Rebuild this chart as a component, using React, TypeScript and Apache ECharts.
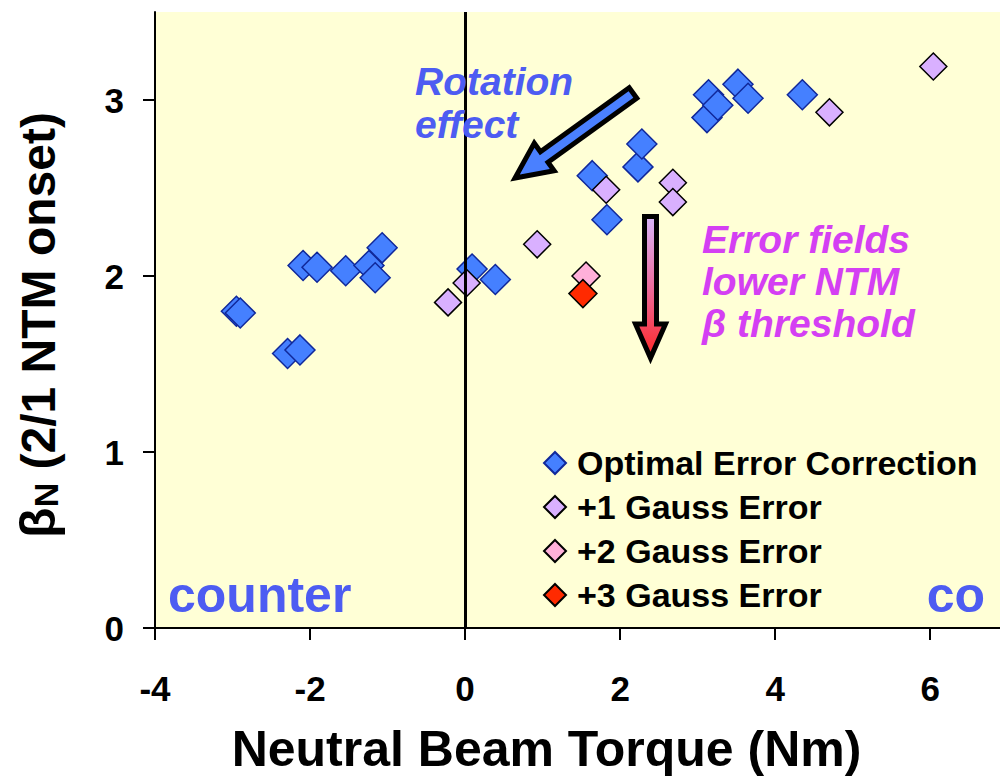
import React, { useEffect, useRef } from "react";
import * as echarts from "echarts";

// Neutral beam torque (Nm) and beta_N at 2/1 NTM onset, one pair of arrays per error-field case
const optimalTorque = [-2.95, -2.9, -2.29, -2.13, -2.09, -1.91, -1.54, -1.24, -1.16, -1.07, 0.09, 0.39, 1.64, 1.83, 2.23, 2.28, 3.12, 3.14, 3.26, 3.52, 3.65, 4.35];
const optimalBeta = [1.8, 1.79, 1.56, 1.58, 2.06, 2.05, 2.03, 2.06, 1.99, 2.16, 2.04, 1.98, 2.57, 2.32, 2.62, 2.75, 2.9, 3.03, 2.97, 3.09, 3.01, 3.03];

const gauss1Torque = [-0.22, 0.02, 0.93, 1.82, 2.68, 2.68, 4.7, 6.04];
const gauss1Beta = [1.85, 1.96, 2.18, 2.49, 2.53, 2.42, 2.93, 3.19];

const gauss2Torque = [1.56];
const gauss2Beta = [2.0];

const gauss3Torque = [1.52];
const gauss3Beta = [1.9];

const seriesNames = ["Optimal Error Correction", "+1 Gauss Error", "+2 Gauss Error", "+3 Gauss Error"];

const xTicks = [-4, -2, 0, 2, 4, 6];
const yTicks = [0, 1, 2, 3];

const FONT = "Arial, 'Liberation Sans', Helvetica, sans-serif";
const BLUE_TEXT = "#4D5CF2";
const MAGENTA_TEXT = "#D43FF3";

const zip = (xs: number[], ys: number[]) => xs.map((x, i) => [x, ys[i]]);

// Block arrow outline from tail to tip
function blockArrow(tail: number[], tip: number[], shaftHalf: number, headHalf: number, headLen: number) {
  const dx = tip[0] - tail[0];
  const dy = tip[1] - tail[1];
  const len = Math.hypot(dx, dy);
  const ux = dx / len;
  const uy = dy / len;
  const nx = -uy;
  const ny = ux;
  const bx = tip[0] - ux * headLen;
  const by = tip[1] - uy * headLen;
  return [
    [tail[0] + nx * shaftHalf, tail[1] + ny * shaftHalf],
    [bx + nx * shaftHalf, by + ny * shaftHalf],
    [bx + nx * headHalf, by + ny * headHalf],
    [tip[0], tip[1]],
    [bx - nx * headHalf, by - ny * headHalf],
    [bx - nx * shaftHalf, by - ny * shaftHalf],
    [tail[0] - nx * shaftHalf, tail[1] - ny * shaftHalf],
  ];
}

export default function App() {
  const ref = useRef<HTMLDivElement>(null);

  useEffect(() => {
    if (!ref.current) return;
    const chart = echarts.init(ref.current, undefined, { renderer: "svg" });

    const scatterBase = {
      type: "scatter",
      symbol: "diamond",
    };

    const option: any = {
      animation: false,
      backgroundColor: "#ffffff",
      grid: {
        left: 155,
        top: 12,
        right: 0,
        bottom: 153,
        show: true,
        backgroundColor: "#FFFFD6",
        borderWidth: 0,
        containLabel: false,
      },
      legend: {
        orient: "vertical",
        left: 543,
        top: 445,
        padding: 0,
        itemWidth: 22,
        itemHeight: 22,
        itemGap: 8,
        data: seriesNames,
        textStyle: {
          fontFamily: FONT,
          fontWeight: "bold",
          fontSize: 34,
          color: "#000",
          lineHeight: 36,
          padding: [0, 0, 0, 6],
        },
      },
      xAxis: {
        type: "value",
        min: -4,
        max: 6.9,
        interval: 2,
        splitLine: { show: false },
        axisLine: { show: true, onZero: false, lineStyle: { color: "#000", width: 2 } },
        axisTick: { show: true, length: 12, lineStyle: { color: "#000", width: 2 }, customValues: xTicks },
        axisLabel: {
          customValues: xTicks,
          margin: 43,
          fontFamily: FONT,
          fontWeight: "bold",
          fontSize: 35,
          color: "#000",
          formatter: (v: number) => (xTicks.indexOf(v) >= 0 ? String(v) : ""),
        },
        name: "Neutral Beam Torque (Nm)",
        nameLocation: "middle",
        nameGap: 96,
        nameTextStyle: {
          fontFamily: FONT,
          fontWeight: "bold",
          fontSize: 50,
          color: "#000",
          padding: [0, 62, 0, 0],
        },
      },
      yAxis: {
        type: "value",
        min: 0,
        max: 3.5,
        interval: 1,
        splitLine: { show: false },
        axisLine: { show: true, onZero: false, lineStyle: { color: "#000", width: 2 } },
        axisTick: { show: true, length: 12, lineStyle: { color: "#000", width: 2 }, customValues: yTicks },
        axisLabel: {
          customValues: yTicks,
          margin: 31,
          fontFamily: FONT,
          fontWeight: "bold",
          fontSize: 35,
          color: "#000",
          formatter: (v: number) => (yTicks.indexOf(v) >= 0 ? String(v) : ""),
        },
        name: "{b|β}{n|N}{t| (2/1 NTM onset)}",
        nameLocation: "middle",
        nameRotate: 90,
        nameGap: 92,
        nameTextStyle: {
          color: "#000",
          padding: [0, 10, 0, 0],
          rich: {
            b: { fontFamily: FONT, fontWeight: "bold", fontSize: 50, color: "#000" },
            n: { fontFamily: FONT, fontWeight: "bold", fontSize: 34, color: "#000", verticalAlign: "bottom" },
            t: { fontFamily: FONT, fontWeight: "bold", fontSize: 48, color: "#000" },
          },
        },
      },
      series: [
        {
          ...scatterBase,
          name: seriesNames[0],
          symbolSize: 30,
          data: zip(optimalTorque, optimalBeta),
          itemStyle: { color: "#4580FF", borderColor: "#10289A", borderWidth: 1.5, opacity: 1 },
          markLine: {
            silent: true,
            symbol: "none",
            label: { show: false },
            lineStyle: { color: "#000", width: 3, type: "solid" },
            data: [{ xAxis: 0 }],
            z: 5,
          },
        },
        {
          ...scatterBase,
          name: seriesNames[1],
          symbolSize: 27,
          data: zip(gauss1Torque, gauss1Beta),
          itemStyle: { color: "#D9B0FF", borderColor: "#000", borderWidth: 1.5, opacity: 1 },
        },
        {
          ...scatterBase,
          name: seriesNames[2],
          symbolSize: 28,
          data: zip(gauss2Torque, gauss2Beta),
          itemStyle: { color: "#FFB0DA", borderColor: "#000", borderWidth: 1.5, opacity: 1 },
        },
        {
          ...scatterBase,
          name: seriesNames[3],
          symbolSize: 28,
          data: zip(gauss3Torque, gauss3Beta),
          itemStyle: { color: "#FF2A00", borderColor: "#000", borderWidth: 1.5, opacity: 1 },
        },
      ],
      graphic: [
        {
          type: "polygon",
          z: 100,
          shape: { points: blockArrow([633, 93], [515, 178], 6.5, 17, 36) },
          style: { fill: "#4A80FF", stroke: "#000", lineWidth: 5, lineJoin: "miter" },
        },
        {
          type: "polygon",
          z: 100,
          shape: {
            points: [
              [644.5, 216.5],
              [656.5, 216.5],
              [656.5, 324],
              [665.5, 324],
              [650.5, 358],
              [635.5, 324],
              [644.5, 324],
            ],
          },
          style: {
            fill: new echarts.graphic.LinearGradient(0, 0, 0, 1, [
              { offset: 0, color: "#D8B6FA" },
              { offset: 0.5, color: "#EC6C9C" },
              { offset: 1, color: "#FF2626" },
            ]),
            stroke: "#000",
            lineWidth: 5,
            lineJoin: "miter",
          },
        },
        {
          type: "text",
          z: 100,
          left: 415,
          top: 62,
          style: { text: "Rotation", font: `italic bold 39px ${FONT}`, fill: BLUE_TEXT },
        },
        {
          type: "text",
          z: 100,
          left: 415,
          top: 105,
          style: { text: "effect", font: `italic bold 39px ${FONT}`, fill: BLUE_TEXT },
        },
        {
          type: "text",
          z: 100,
          left: 702,
          top: 220,
          style: { text: "Error fields", font: `italic bold 39px ${FONT}`, fill: MAGENTA_TEXT },
        },
        {
          type: "text",
          z: 100,
          left: 702,
          top: 262,
          style: { text: "lower NTM", font: `italic bold 39px ${FONT}`, fill: MAGENTA_TEXT },
        },
        {
          type: "text",
          z: 100,
          left: 702,
          top: 304,
          style: { text: "β threshold", font: `italic bold 39px ${FONT}`, fill: MAGENTA_TEXT },
        },
        {
          type: "text",
          z: 100,
          left: 168,
          top: 570,
          style: { text: "counter", font: `bold 50px ${FONT}`, fill: BLUE_TEXT },
        },
        {
          type: "text",
          z: 100,
          right: 15,
          top: 570,
          style: { text: "co", font: `bold 50px ${FONT}`, fill: BLUE_TEXT },
        },
      ],
    };

    chart.setOption(option);
    return () => chart.dispose();
  }, []);

  return (
    <div
      ref={ref}
      style={{ position: "fixed", left: 0, top: 0, width: 1000, height: 781 }}
    />
  );
}
